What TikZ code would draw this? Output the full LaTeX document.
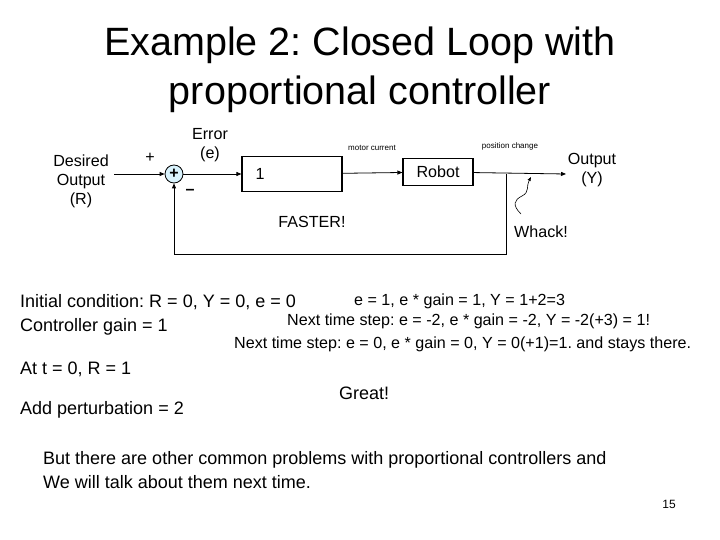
\documentclass[tikz,border=0pt]{standalone}
\usepackage{fontspec}
\setmainfont{Liberation Sans}
\usetikzlibrary{arrows.meta}
\begin{document}
\frenchspacing
\begin{tikzpicture}[x=1pt,y=-1pt,
  t/.style={inner sep=0pt,font=\fontsize{16.1}{19}\selectfont},
  tl/.style={inner sep=0pt,font=\fontsize{18}{24}\selectfont},
  blk/.style={draw,line width=1.2pt,inner sep=0pt},
  ar/.style={-{Triangle[length=5pt,width=4pt]},line width=0.8pt}]
\useasboundingbox (0,0) rectangle (720,540);
\node[inner sep=0pt,font=\fontsize{39.5}{49}\selectfont,align=center] (title) at (360,70) {Example 2: Closed Loop with\\proportional controller};
\node[t,align=center] (des) at (81,181) {Desired\\Output\\(R)};
\node[t] (pl) at (150,158) {+};
\node[t] (mi) at (190,192) {\textbf{--}};
\node[t,align=center] (err) at (210,145) {Error\\(e)};
\node[circle,draw,fill=cyan!15,minimum size=18pt,inner sep=0pt,line width=0.8pt,font=\fontsize{16}{16}\selectfont\bfseries] (sum) at (174,174) {+};
\node[blk,minimum width=100pt,minimum height=35pt] (k) at (292,174) {};
\node[t,anchor=west] (one) at (k.west) {\hspace{14pt}1};
\node[blk,minimum width=70pt,minimum height=27pt,font=\fontsize{16.1}{19}\selectfont] (rob) at (438,172) {Robot};
\node[inner sep=0pt,font=\fontsize{8}{9}\selectfont] (mc) at (372,148) {motor current};
\node[inner sep=0pt,font=\fontsize{8}{9}\selectfont] (pc) at (510,146) {position change};
\node[t,align=center] (out) at (592,170) {Output\\(Y)};
\node[t] (fast) at (312,222) {FASTER!};
\node[t] (wh) at (541,232) {Whack!};
\coordinate (in) at (114,174);
\coordinate (oe) at (566,174);
\coordinate (tap) at (506,174);
\coordinate (bl) at (506,254);
\coordinate (br) at (174,254);
\coordinate (sq) at (521,214);
\coordinate (sqe) at (531,177);
\draw[line width=0.6pt,-{Triangle[length=4pt,width=3pt]}] (sq) .. controls (512,205) and (514,200) .. (522,196) .. controls (530,192) and (526,186) .. (sqe);
\draw[ar] (in) -- (sum);
\draw[ar] (sum) -- (k);
\draw[ar] (k) -- (rob);
\draw[ar] (rob) -- (oe);
\draw[line width=0.6pt] (tap) -- (bl) -- (br);
\draw[ar] (br) -- (sum);
\node[tl,anchor=west] (ic) at (20,302) {Initial condition: R = 0, Y = 0, e = 0};
\node[tl,anchor=west] (cg) at (20,327) {Controller gain = 1};
\node[t,anchor=west] (e1) at (354,301) {e = 1, e * gain = 1, Y = 1+2=3};
\node[t,anchor=west] (e2) at (287,321) {Next time step: e = -2, e * gain = -2, Y = -2(+3) = 1!};
\node[t,anchor=west] (e3) at (234,344) {Next time step: e = 0, e * gain = 0, Y = 0(+1)=1. and stays there.};
\node[tl,anchor=west] (at) at (20,369) {At t = 0, R = 1};
\node[tl,anchor=west] (gr) at (339,393) {Great!};
\node[tl,anchor=west] (ap) at (20,410) {Add perturbation = 2};
\node[tl,anchor=west,align=left] (bt) at (43,470) {But there are other common problems with proportional controllers and\\We will talk about them next time.};
\node[inner sep=0pt,font=\fontsize{12}{14}\selectfont] (pg) at (669,504) {15};
\end{tikzpicture}
\end{document}
